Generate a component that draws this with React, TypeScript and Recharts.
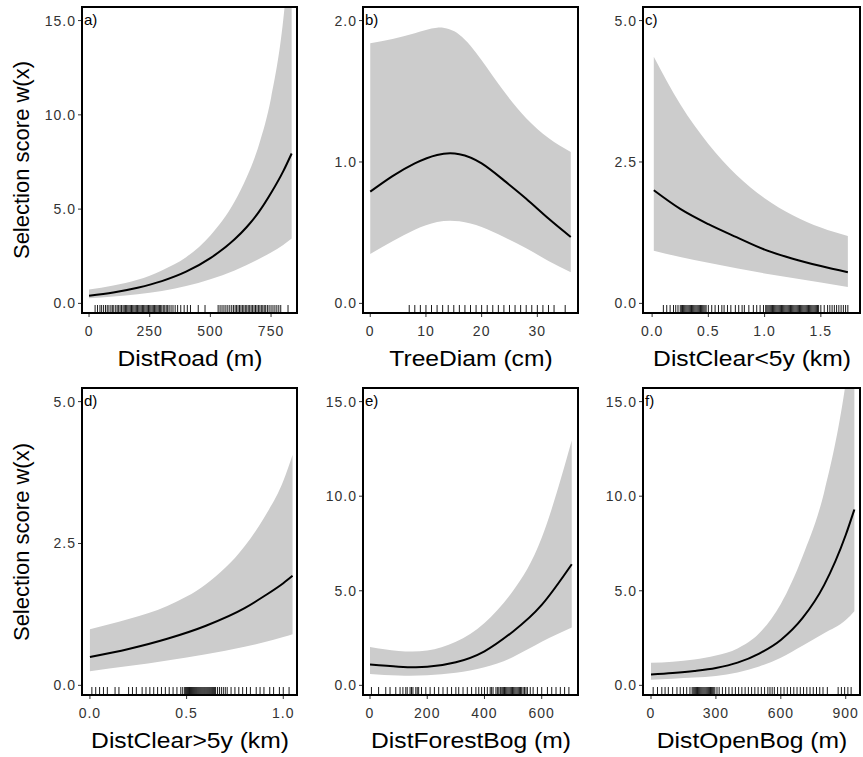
import { Area, ComposedChart, Line, Scatter, XAxis, YAxis } from "recharts";

// a) DistRoad (m)
const roadX = [0, 100, 200, 300, 400, 500, 600, 650, 700, 750, 800, 835];
const roadFit = [0.41, 0.58, 0.83, 1.18, 1.68, 2.4, 3.4, 4.05, 4.85, 5.85, 7.0, 7.95];
const roadLo = [0.27, 0.36, 0.48, 0.66, 0.92, 1.28, 1.75, 2.04, 2.35, 2.7, 3.1, 3.44];
const roadHi = [0.74, 0.95, 1.25, 1.75, 2.45, 3.6, 5.4, 6.7, 8.4, 10.9, 15, 20];
const roadRug = [25, 35, 45, 52, 60, 68, 75, 82, 90, 96, 102, 110, 116, 122, 128, 134, 140, 145, 150, 155, 160, 165, 170, 175, 180, 185, 190, 195, 200, 205, 210, 215, 220, 225, 230, 235, 240, 245, 250, 255, 260, 265, 270, 275, 280, 285, 290, 295, 300, 306, 312, 318, 324, 330, 338, 346, 355, 365, 378, 392, 405, 418, 450, 478, 532, 540, 548, 556, 564, 572, 580, 588, 595, 602, 608, 614, 620, 626, 632, 638, 644, 650, 656, 662, 668, 674, 680, 686, 692, 698, 704, 710, 716, 722, 728, 735, 742, 750, 758, 766, 774, 782, 790, 820];

// b) TreeDiam (cm)
const treeX = [0, 4, 8, 12, 16, 20, 24, 28, 32, 36];
const treeFit = [0.79, 0.9, 0.99, 1.05, 1.055, 0.99, 0.87, 0.74, 0.6, 0.47];
const treeLo = [0.35, 0.44, 0.52, 0.575, 0.58, 0.54, 0.47, 0.39, 0.3, 0.22];
const treeHi = [1.84, 1.87, 1.91, 1.95, 1.9, 1.72, 1.5, 1.31, 1.17, 1.07];
const treeRug = [7, 8, 9, 10, 11, 12, 13, 14, 15, 16, 17, 18, 19, 20, 21, 22, 23, 24, 25, 26, 27, 28, 29, 30, 31, 32, 33, 35];

// c) DistClear<5y (km)
const young = [0.015, 0.25, 0.5, 0.75, 1.0, 1.25, 1.5, 1.74];
const youngFit = [2.0, 1.67, 1.4, 1.17, 0.95, 0.79, 0.66, 0.55];
const youngLo = [0.93, 0.82, 0.72, 0.62, 0.53, 0.45, 0.37, 0.29];
const youngHi = [4.36, 3.52, 2.82, 2.27, 1.86, 1.56, 1.34, 1.19];
const youngRug = [0.1, 0.13, 0.16, 0.19, 0.21, 0.23, 0.25, 0.26, 0.27, 0.28, 0.29, 0.3, 0.31, 0.32, 0.33, 0.34, 0.35, 0.36, 0.37, 0.38, 0.39, 0.4, 0.41, 0.42, 0.43, 0.44, 0.45, 0.46, 0.47, 0.48, 0.5, 0.53, 0.56, 0.59, 0.62, 0.64, 0.67, 0.7, 0.74, 0.77, 0.8, 0.82, 0.86, 0.9, 0.93, 0.96, 0.99, 1.01, 1.02, 1.03, 1.04, 1.05, 1.06, 1.07, 1.08, 1.09, 1.1, 1.11, 1.12, 1.13, 1.14, 1.15, 1.16, 1.17, 1.18, 1.19, 1.2, 1.21, 1.22, 1.23, 1.24, 1.25, 1.26, 1.27, 1.28, 1.29, 1.3, 1.31, 1.32, 1.33, 1.34, 1.35, 1.36, 1.37, 1.38, 1.39, 1.4, 1.41, 1.42, 1.43, 1.44, 1.45, 1.46, 1.47, 1.48, 1.5, 1.53, 1.56, 1.58, 1.6, 1.62, 1.64, 1.66, 1.68, 1.7, 1.72, 1.74];

// d) DistClear>5y (km)
const old = [0, 0.2, 0.4, 0.6, 0.8, 0.9, 1.0, 1.048];
const oldFit = [0.5, 0.64, 0.82, 1.05, 1.36, 1.57, 1.8, 1.93];
const oldLo = [0.25, 0.34, 0.44, 0.55, 0.68, 0.76, 0.85, 0.9];
const oldHi = [0.99, 1.17, 1.4, 1.78, 2.45, 2.95, 3.6, 4.06];
const oldRug = [0.01, 0.03, 0.05, 0.07, 0.09, 0.13, 0.15, 0.2, 0.22, 0.24, 0.27, 0.29, 0.31, 0.33, 0.35, 0.37, 0.39, 0.41, 0.43, 0.45, 0.47, 0.48, 0.49, 0.495, 0.5, 0.505, 0.51, 0.515, 0.52, 0.525, 0.53, 0.535, 0.54, 0.545, 0.55, 0.555, 0.56, 0.565, 0.57, 0.575, 0.58, 0.585, 0.59, 0.595, 0.6, 0.605, 0.61, 0.615, 0.62, 0.625, 0.63, 0.635, 0.64, 0.645, 0.65, 0.66, 0.67, 0.68, 0.69, 0.7, 0.71, 0.73, 0.75, 0.77, 0.79, 0.81, 0.83, 0.86, 0.88, 0.9, 0.93, 0.95, 0.98, 1.0, 1.03];

// e) DistForestBog (m)
const fbogX = [0, 100, 200, 300, 400, 500, 600, 705];
const fbogFit = [1.1, 0.99, 0.98, 1.22, 1.8, 2.85, 4.25, 6.4];
const fbogLo = [0.6, 0.52, 0.53, 0.66, 0.96, 1.5, 2.3, 3.06];
const fbogHi = [2.03, 1.82, 1.84, 2.3, 3.3, 5.0, 7.8, 12.95];
const fbogRug = [5, 30, 55, 70, 90, 105, 115, 125, 130, 140, 145, 150, 160, 165, 170, 180, 195, 210, 225, 240, 255, 270, 285, 300, 310, 325, 340, 355, 370, 380, 390, 400, 410, 420, 425, 430, 440, 445, 450, 455, 458, 462, 466, 470, 474, 478, 482, 486, 490, 494, 498, 502, 506, 510, 514, 518, 522, 526, 530, 535, 540, 545, 550, 560, 570, 585, 600, 620, 635, 650, 665, 680, 695];

// f) DistOpenBog (m)
const obogX = [0, 100, 200, 300, 400, 500, 600, 700, 800, 900, 940];
const obogFit = [0.57, 0.65, 0.76, 0.92, 1.2, 1.68, 2.4, 3.55, 5.3, 7.95, 9.3];
const obogLo = [0.3, 0.35, 0.41, 0.5, 0.68, 1.0, 1.46, 2.1, 2.75, 3.45, 3.92];
const obogHi = [1.19, 1.25, 1.37, 1.58, 1.95, 2.75, 4.3, 6.8, 10.2, 16.0, 19.5];
const obogRug = [10, 30, 50, 65, 80, 100, 120, 135, 150, 165, 180, 190, 195, 200, 205, 210, 215, 220, 225, 230, 235, 240, 245, 250, 255, 260, 265, 270, 275, 280, 285, 290, 295, 305, 315, 330, 345, 360, 375, 390, 405, 420, 435, 450, 465, 480, 495, 510, 525, 540, 550, 560, 570, 585, 600, 615, 630, 645, 660, 675, 690, 705, 720, 735, 750, 765, 780, 795, 815, 865, 880, 895, 910, 925];

const ticks15 = [0, 5, 10, 15];
const ticks2 = [0, 1, 2];
const ticks5 = [0, 2.5, 5];

const FONT = "'Liberation Sans', Arial, sans-serif";
const YW = 50;
const XH = 34;

type PanelProps = {
  letter: string;
  xLabel: string;
  left: number;
  top: number;
  w: number;
  h: number;
  xs: number[];
  fit: number[];
  lo: number[];
  hi: number[];
  rug: number[];
  xDomain: [number, number];
  xTicks: number[];
  xDigits: number;
  yTicks: number[];
  curve?: "monotone" | "natural";
  yLabel?: boolean;
};

function Panel(p: PanelProps) {
  const yMax = p.yTicks[p.yTicks.length - 1];
  const yMin = -0.034 * yMax;
  const curve = p.curve ?? "monotone";
  const data = p.xs.map((x, i) => ({ x, fit: p.fit[i], band: [p.lo[i], p.hi[i]] }));
  const rugData = p.rug.map((x) => ({ x, y: yMin }));
  const tickStyle = { fill: "#333", fontSize: 14, fontFamily: FONT, letterSpacing: 1 };

  return (
    <>
      <div style={{ position: "absolute", left: p.left - YW, top: p.top }}>
        <ComposedChart width={YW + p.w} height={p.h + XH} data={data} margin={{ top: 0, right: 0, bottom: 0, left: 0 }}>
          <XAxis
            dataKey="x"
            type="number"
            domain={p.xDomain}
            ticks={p.xTicks}
            allowDataOverflow
            interval={0}
            height={XH}
            tickFormatter={(v: number) => v.toFixed(p.xDigits)}
            tick={tickStyle}
            tickLine={{ stroke: "#333" }}
            axisLine={false}
            tickSize={4}
            tickMargin={9}
          />
          <YAxis
            type="number"
            domain={[yMin, 1.048 * yMax]}
            ticks={p.yTicks}
            allowDataOverflow
            interval={0}
            width={YW}
            tickFormatter={(v: number) => v.toFixed(1)}
            tick={tickStyle}
            tickLine={{ stroke: "#333" }}
            axisLine={false}
            tickSize={4}
            tickMargin={2}
          />
          <Area dataKey="band" type={curve} stroke="none" fill="#cccccc" fillOpacity={1} isAnimationActive={false} />
          <Line dataKey="fit" type={curve} stroke="#000" strokeWidth={2} dot={false} isAnimationActive={false} />
          <Scatter
            data={rugData}
            dataKey="y"
            isAnimationActive={false}
            shape={(s: any) => <line x1={s.cx} x2={s.cx} y1={s.cy - 1} y2={s.cy - 8} stroke="#000" strokeWidth={0.9} />}
          />
        </ComposedChart>
      </div>
      <div
        style={{
          position: "absolute",
          left: p.left - 1,
          top: p.top - 1,
          width: p.w + 2,
          height: p.h + 2,
          border: "2px solid #000",
          boxSizing: "border-box",
          pointerEvents: "none",
        }}
      />
      <div style={{ position: "absolute", left: p.left + 2, top: p.top + 5, fontSize: 15, lineHeight: "16px", fontFamily: FONT, color: "#000" }}>
        {p.letter}
      </div>
      <div
        style={{
          position: "absolute",
          left: p.left + p.w / 2,
          top: p.top + p.h + 46,
          transform: "translate(-50%, -50%) scaleX(1.12)",
          fontSize: 22,
          fontFamily: FONT,
          whiteSpace: "nowrap",
          color: "#000",
        }}
      >
        {p.xLabel}
      </div>
      {p.yLabel && (
        <div
          style={{
            position: "absolute",
            left: 22,
            top: p.top + p.h / 2,
            transform: "translate(-50%, -50%) rotate(-90deg)",
            fontSize: 22,
            fontFamily: FONT,
            whiteSpace: "nowrap",
            color: "#000",
          }}
        >
          Selection score w(x)
        </div>
      )}
    </>
  );
}

export default function App() {
  return (
    <div style={{ position: "absolute", left: 0, top: 0, width: 863, height: 757, background: "#fff", overflow: "hidden" }}>
      <Panel letter="a)" xLabel="DistRoad (m)" left={82} top={7} w={215} h={306} xs={roadX} fit={roadFit} lo={roadLo} hi={roadHi} rug={roadRug} xDomain={[-29, 857]} xTicks={[0, 250, 500, 750]} xDigits={0} yTicks={ticks15} yLabel />
      <Panel letter="b)" xLabel="TreeDiam (cm)" left={363} top={7} w={215} h={306} xs={treeX} fit={treeFit} lo={treeLo} hi={treeHi} rug={treeRug} xDomain={[-1.3, 37.3]} xTicks={[0, 10, 20, 30]} xDigits={0} yTicks={ticks2} curve="natural" />
      <Panel letter="c)" xLabel="DistClear<5y (km)" left={643} top={7} w={217} h={306} xs={young} fit={youngFit} lo={youngLo} hi={youngHi} rug={youngRug} xDomain={[-0.081, 1.848]} xTicks={[0, 0.5, 1, 1.5]} xDigits={1} yTicks={ticks5} />
      <Panel letter="d)" xLabel="DistClear>5y (km)" left={82} top={388} w={215} h={307} xs={old} fit={oldFit} lo={oldLo} hi={oldHi} rug={oldRug} xDomain={[-0.041, 1.071]} xTicks={[0, 0.5, 1]} xDigits={1} yTicks={ticks5} yLabel />
      <Panel letter="e)" xLabel="DistForestBog (m)" left={363} top={388} w={215} h={307} xs={fbogX} fit={fbogFit} lo={fbogLo} hi={fbogHi} rug={fbogRug} xDomain={[-24.5, 726.8]} xTicks={[0, 200, 400, 600]} xDigits={0} yTicks={ticks15} curve="natural" />
      <Panel letter="f)" xLabel="DistOpenBog (m)" left={643} top={388} w={217} h={307} xs={obogX} fit={obogFit} lo={obogLo} hi={obogHi} rug={obogRug} xDomain={[-37, 966]} xTicks={[0, 300, 600, 900]} xDigits={0} yTicks={ticks15} />
    </div>
  );
}
